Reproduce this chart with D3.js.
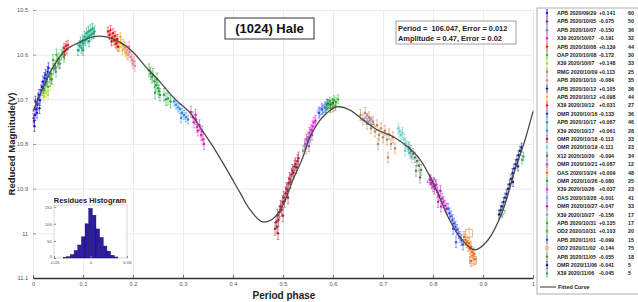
<!DOCTYPE html>
<html lang="en">
<head>
<meta charset="utf-8">
<title>(1024) Hale</title>
<script src="https://cdn.jsdelivr.net/npm/d3@7"></script>
<style>
  body { margin: 0; background: #fff; }
  svg { font-family: "Liberation Sans", Arial, sans-serif; display: block; }
</style>
</head>
<body>
<script>
// ---- data ----
var xTicks = [0, 0.1, 0.2, 0.3, 0.4, 0.5, 0.6, 0.7, 0.8, 0.9, 1]
var yTicks = [10.5, 10.6, 10.7, 10.8, 10.9, 11, 11.1]

// fitted curve, sampled by eye along the grey line
var curvePhase = [0, 0.014, 0.04, 0.066, 0.094, 0.12, 0.146, 0.174, 0.2, 0.226, 0.254, 0.28, 0.314, 0.334,
  0.36, 0.388, 0.414, 0.434, 0.458, 0.478, 0.498, 0.52, 0.54, 0.554, 0.58, 0.608, 0.634, 0.66, 0.688,
  0.724, 0.77, 0.804, 0.83, 0.858, 0.884, 0.91, 0.938, 0.964, 0.984, 1]
var curveMag = [10.727, 10.690, 10.628, 10.589, 10.572, 10.560, 10.560, 10.572, 10.594, 10.628, 10.661, 10.695, 10.730, 10.762,
  10.806, 10.858, 10.909, 10.947, 10.974, 10.969, 10.941, 10.880, 10.829, 10.784, 10.739, 10.717, 10.724, 10.746, 10.768,
  10.786, 10.829, 10.896, 10.963, 11.015, 11.037, 11.015, 10.954, 10.858, 10.791, 10.727]

var sessionNames = ["APB 2020/09/29", "APB 2020/10/05", "APB 2020/10/07", "X39 2020/10/07", "APB 2020/10/08",
  "OAP 2020/10/08", "X39 2020/10/07", "RMG 2020/10/09", "APB 2020/10/10", "APB 2020/10/12", "APB 2020/10/12",
  "X39 2020/10/12", "OMR 2020/10/16", "APB 2020/10/17", "X39 2020/10/17", "OMR 2020/10/18", "OMR 2020/10/19",
  "X12 2020/10/20", "OMR 2020/10/21", "OAS 2020/10/24", "OMR 2020/10/26", "X39 2020/10/26", "OAS 2020/10/28",
  "OMR 2020/10/27", "X39 2020/10/27", "APB 2020/10/31", "OD2 2020/10/31", "APB 2020/11/01", "OD2 2020/11/02",
  "APB 2020/11/05", "OMR 2020/11/06", "X39 2020/11/06"]
var sessionShifts = ["+0.141", "-0.075", "-0.150", "-0.191", "+0.139", "-0.172", "+0.148", "+0.113", "-0.084",
  "+0.105", "+0.098", "+0.031", "-0.133", "+0.067", "+0.061", "-0.113", "-0.111", "-0.094", "+0.087", "+0.009",
  "-0.080", "+0.037", "-0.001", "-0.047", "-0.156", "+0.135", "+0.103", "-0.099", "-0.144", "-0.055", "-0.041", "-0.045"]
var sessionCounts = [60, 50, 36, 32, 44, 30, 33, 25, 35, 36, 44, 27, 36, 46, 28, 33, 23, 34, 12, 48, 25, 23, 41, 33,
  17, 17, 20, 15, 75, 18, 5, 5]
var sessionErr = [0.012, 0.01, 0.01, 0.012, 0.01, 0.012, 0.01, 0.012, 0.012, 0.01, 0.01, 0.01, 0.012, 0.012, 0.01,
  0.014, 0.012, 0.012, 0.01, 0.012, 0.014, 0.012, 0.01, 0.012, 0.012, 0.01, 0.01, 0.012, 0.012, 0.01, 0.01, 0.01]

// [phase, reduced magnitude] per session
var sessionPoints = [
  [[0.002,10.748],[0.004,10.735],[0.006,10.722],[0.005,10.705],[0.009,10.712],[0.010,10.698],[0.012,10.69],[0.014,10.702],
   [0.016,10.68],[0.018,10.672],[0.020,10.66],[0.021,10.675],[0.023,10.652],[0.025,10.645],[0.027,10.655],[0.029,10.638],
   [0.031,10.63],[0.008,10.73],[0.003,10.76],[0.013,10.72]],
  [[0.001,10.742],[0.036,10.655],[0.045,10.63],[0.052,10.62]],
  [[0.668,10.742],[0.676,10.75]],
  [[0.316,10.728],[0.320,10.74],[0.322,10.752],[0.326,10.745],[0.328,10.762],[0.330,10.77],[0.333,10.758],[0.336,10.78],
   [0.338,10.772],[0.340,10.79],[0.342,10.8],[0.325,10.735]],
  [[0.062,10.585],[0.064,10.592],[0.066,10.58],[0.068,10.588],[0.070,10.578],[0.063,10.6]],
  [[0.022,10.68],[0.025,10.668],[0.028,10.66],[0.030,10.672],[0.033,10.65],[0.036,10.642],[0.038,10.655],[0.041,10.632],
   [0.044,10.625],[0.046,10.638],[0.049,10.615],[0.052,10.608],[0.054,10.62],[0.057,10.6],[0.060,10.594],[0.062,10.605],
   [0.047,10.6],[0.040,10.612]],
  [[0.018,10.69],[0.022,10.695],[0.026,10.685],[0.030,10.69],[0.034,10.67]],
  [[0.655,10.735],[0.660,10.745],[0.664,10.73],[0.668,10.755],[0.672,10.74],[0.676,10.765],[0.680,10.75],[0.684,10.772],
   [0.688,10.758],[0.692,10.78],[0.696,10.765],[0.700,10.785],[0.704,10.77],[0.708,10.79],[0.712,10.778],[0.716,10.8],
   [0.720,10.785],[0.724,10.81],[0.690,10.8],[0.710,10.83]],
  [[0.180,10.578],[0.184,10.585],[0.188,10.59],[0.190,10.6],[0.193,10.595],[0.196,10.605],[0.198,10.612],[0.200,10.62],
   [0.202,10.615],[0.204,10.625],[0.192,10.582]],
  [[0.590,10.71],[0.595,10.712],[0.600,10.708]],
  [[0.164,10.57],[0.167,10.578],[0.170,10.565],[0.173,10.583],[0.176,10.575],[0.179,10.59],[0.182,10.58],[0.185,10.595],
   [0.188,10.6],[0.175,10.56]],
  [[0.150,10.548],[0.153,10.556],[0.155,10.545],[0.158,10.562],[0.160,10.552],[0.162,10.568],[0.164,10.558],[0.166,10.575],
   [0.168,10.565],[0.170,10.582],[0.157,10.57]],
  [[0.572,10.73],[0.578,10.722],[0.584,10.718],[0.588,10.712]],
  [[0.090,10.59],[0.093,10.58],[0.095,10.572],[0.097,10.585],[0.099,10.568],[0.101,10.575],[0.103,10.56],[0.105,10.568],
   [0.107,10.552],[0.109,10.562],[0.111,10.548],[0.113,10.558],[0.115,10.545],[0.117,10.555],[0.119,10.542],[0.121,10.552],
   [0.123,10.548],[0.100,10.59],[0.112,10.57]],
  [[0.282,10.705],[0.286,10.712],[0.290,10.718],[0.294,10.722],[0.298,10.73],[0.302,10.735],[0.306,10.74],[0.310,10.745],
   [0.296,10.742]],
  [[0.484,10.99],[0.486,10.975],[0.488,10.985],[0.489,10.96],[0.491,10.97],[0.493,10.952],[0.495,10.94],[0.497,10.948],
   [0.499,10.93],[0.501,10.92],[0.503,10.928],[0.505,10.91],[0.507,10.9],[0.509,10.905],[0.511,10.888],[0.513,10.878],
   [0.515,10.885],[0.517,10.868],[0.519,10.86],[0.521,10.865],[0.523,10.85],[0.525,10.845],[0.527,10.852],[0.529,10.838],
   [0.531,10.832],[0.490,11.0],[0.500,10.96],[0.510,10.92]],
  [[0.730,10.765],[0.733,10.772],[0.736,10.78],[0.739,10.775],[0.742,10.79],[0.745,10.798],[0.748,10.805],[0.751,10.812],
   [0.754,10.82],[0.757,10.83],[0.744,10.815]],
  [[0.752,10.808],[0.756,10.815],[0.760,10.822],[0.764,10.83],[0.768,10.838],[0.772,10.848],[0.776,10.858],[0.766,10.86],
   [0.774,10.875]],
  [[0.795,10.88],[0.802,10.885]],
  [[0.862,11.008],[0.865,11.015],[0.868,11.02],[0.870,11.028],[0.872,11.022],[0.874,11.035],[0.876,11.03],[0.878,11.042],
   [0.880,11.05],[0.882,11.045],[0.884,11.058],[0.876,11.062]],
  [[0.232,10.635],[0.235,10.642],[0.238,10.65],[0.240,10.645],[0.243,10.66],[0.246,10.668],[0.248,10.655],[0.250,10.675],
   [0.252,10.682],[0.254,10.69],[0.244,10.685],[0.262,10.69],[0.266,10.7],[0.270,10.698],[0.275,10.705]],
  [[0.544,10.8],[0.547,10.79],[0.550,10.785],[0.553,10.775],[0.556,10.768],[0.559,10.76],[0.562,10.752],[0.565,10.748],
   [0.552,10.805],[0.558,10.78]],
  [[0.574,10.728],[0.580,10.722],[0.586,10.716]],
  [[0.794,10.88],[0.797,10.888],[0.800,10.895],[0.803,10.9],[0.806,10.892],[0.809,10.908],[0.812,10.915],[0.815,10.905],
   [0.818,10.922],[0.821,10.93],[0.824,10.938],[0.827,10.945],[0.810,10.93],[0.816,10.94]],
  [[0.540,10.815],[0.543,10.805],[0.546,10.81],[0.549,10.795],[0.552,10.79],[0.555,10.785]],
  [[0.586,10.72],[0.590,10.712],[0.594,10.705],[0.598,10.71],[0.602,10.702],[0.606,10.706],[0.610,10.7]],
  [[0.938,10.955]],
  [[0.830,10.945],[0.833,10.955],[0.836,10.962],[0.839,10.97],[0.842,10.978],[0.845,10.985],[0.848,10.992],[0.851,11.0],
   [0.854,11.008],[0.857,11.015],[0.860,11.025],[0.846,11.02],[0.840,10.99]],
  [[0.872,11.0],[0.880,11.06]],
  [[0.595,10.72],[0.600,10.718],[0.605,10.715]],
  [[0.932,10.958],[0.935,10.948],[0.938,10.94],[0.941,10.93],[0.944,10.92],[0.947,10.912],[0.950,10.9],[0.953,10.89],
   [0.956,10.878],[0.959,10.865],[0.962,10.855],[0.965,10.845],[0.968,10.835],[0.971,10.825],[0.974,10.815],[0.977,10.808],
   [0.960,10.885],[0.970,10.85]],
  [[0.978,10.835],[0.981,10.828]]
]

// residuals histogram
var histBins = [-0.035, -0.03, -0.025, -0.02, -0.015, -0.01, -0.005, 0, 0.005, 0.01, 0.015, 0.02, 0.025, 0.03, 0.035]
var histCounts = [2, 4, 10, 22, 38, 62, 100, 145, 125, 85, 60, 35, 20, 8, 3]
var histXTicks = [-0.05, 0, 0.05]
var histYTicks = [0, 50, 100, 150]

// ---- styles ----
var sessionColors = ["#1a1ae6", "#7a2a9a", "#5a6ad0", "#e020d0", "#f01818", "#38b038", "#b0e020", "#c8804a",
  "#e0869a", "#1a1a90", "#f0b020", "#e8101e", "#2a3ae8", "#1fa385", "#2a8af0", "#a81e32", "#5ed2d0", "#5a7a5a",
  "#a040b0", "#f26a10", "#22a23a", "#e81ae8", "#4a8af2", "#c81ec8", "#8a98a8", "#18c018", "#3aa83a", "#3050f0",
  "#d89a68", "#6e7e2e", "#14208a", "#44a864"]
var sessionSymbols = ["dot", "dot", "tri", "dot", "dot", "dot", "dot", "dot", "dot", "dot", "dot", "dot", "dot",
  "dot", "dot", "dot", "dot", "dot", "tri", "dot", "dot", "dot", "dia", "dot", "dot", "dot", "triDown", "dot",
  "sq", "dot", "dot", "dot"]

var width = 638, height = 302
var svg = d3.select("body").append("svg").attr("width", width).attr("height", height)

var x = d3.scaleLinear().domain([0, 1]).range([33, 533])
var y = d3.scaleLinear().domain([10.5, 11.1]).range([10, 278])

// grid
svg.append("g")
  .attr("transform", "translate(0,278)")
  .call(d3.axisBottom(x).tickValues(xTicks).tickSize(-268).tickFormat(""))
  .call(g => g.select(".domain").remove())
  .call(g => g.selectAll("line").attr("stroke", "#e6e6e6").attr("stroke-width", 0.8))
svg.append("g")
  .attr("transform", "translate(33,0)")
  .call(d3.axisLeft(y).tickValues(yTicks).tickSize(-500).tickFormat(""))
  .call(g => g.select(".domain").remove())
  .call(g => g.selectAll("line").attr("stroke", "#e6e6e6").attr("stroke-width", 0.8))

// y tick labels
svg.append("g")
  .attr("transform", "translate(33,0)")
  .call(d3.axisLeft(y).tickValues(yTicks).tickSizeInner(-3).tickSizeOuter(0).tickPadding(5).tickFormat(d => d))
  .call(g => g.select(".domain").remove())
  .call(g => g.selectAll("line").attr("stroke", "#999"))
  .call(g => g.selectAll("text").attr("font-size", 5.6).attr("fill", "#555").attr("font-family", null))

// x axis
svg.append("g")
  .attr("transform", "translate(0,278)")
  .call(d3.axisBottom(x).tickValues(xTicks).tickSizeInner(-3).tickSizeOuter(0).tickPadding(4).tickFormat(d => d))
  .call(g => g.select(".domain").attr("stroke", "#333").attr("stroke-width", 1.6))
  .call(g => g.selectAll("line").attr("stroke", "#666"))
  .call(g => g.selectAll("text").attr("font-size", 5.6).attr("fill", "#555").attr("font-family", null))

// axis titles
svg.append("text")
  .attr("transform", "translate(15,144) rotate(-90)")
  .attr("text-anchor", "middle")
  .attr("font-size", 9.5).attr("font-weight", "bold").attr("fill", "#222")
  .text("Reduced Magnitude(V)")
svg.append("text")
  .attr("x", 284).attr("y", 299)
  .attr("text-anchor", "middle")
  .attr("font-size", 10).attr("font-weight", "bold").attr("fill", "#222")
  .text("Period phase")

// symbols
function drawSymbol(g, type, cx, cy, color, big) {
  var s = big ? 3.6 : 1.3
  if (type == "dot") {
    g.append("circle").attr("cx", cx).attr("cy", cy).attr("r", big ? 1.5 : 1.2).attr("fill", color)
  } else if (type == "sq") {
    g.append("rect").attr("x", cx - s).attr("y", cy - s).attr("width", 2 * s).attr("height", 2 * s)
      .attr("fill", "none").attr("stroke", color).attr("stroke-width", 0.7)
  } else if (type == "dia") {
    g.append("path").attr("d", `M${cx},${cy - s}L${cx + s},${cy}L${cx},${cy + s}L${cx - s},${cy}Z`)
      .attr("fill", "none").attr("stroke", color).attr("stroke-width", 0.7)
  } else if (type == "tri") {
    g.append("path").attr("d", `M${cx},${cy - s}L${cx + s},${cy + s * 0.8}L${cx - s},${cy + s * 0.8}Z`)
      .attr("fill", "none").attr("stroke", color).attr("stroke-width", 0.7)
  } else if (type == "triDown") {
    g.append("path").attr("d", `M${cx},${cy + s}L${cx + s},${cy - s * 0.8}L${cx - s},${cy - s * 0.8}Z`)
      .attr("fill", "none").attr("stroke", color).attr("stroke-width", 0.7)
  }
}

// data points with error bars
var pts = svg.append("g")
sessionPoints.forEach(function(list, i) {
  var col = sessionColors[i]
  var g = pts.append("g")
  list.forEach(function(p) {
    var cx = x(p[0]), y0 = y(p[1] - sessionErr[i]), y1 = y(p[1] + sessionErr[i])
    g.append("line").attr("x1", cx).attr("x2", cx).attr("y1", y0).attr("y2", y1)
      .attr("stroke", col).attr("stroke-width", 0.6).attr("opacity", 0.85)
    g.append("line").attr("x1", cx - 1.2).attr("x2", cx + 1.2).attr("y1", y0).attr("y2", y0)
      .attr("stroke", col).attr("stroke-width", 0.5)
    g.append("line").attr("x1", cx - 1.2).attr("x2", cx + 1.2).attr("y1", y1).attr("y2", y1)
      .attr("stroke", col).attr("stroke-width", 0.5)
    drawSymbol(g, sessionSymbols[i], cx, y(p[1]), col, sessionSymbols[i] != "dot")
  })
})

// fitted curve
var line = d3.line()
  .x(d => x(d[0])).y(d => y(d[1]))
  .curve(d3.curveCatmullRom.alpha(0.5))
svg.append("path")
  .datum(curvePhase.map((p, i) => [p, curveMag[i]]))
  .attr("d", line)
  .attr("fill", "none").attr("stroke", "#4a4a4a").attr("stroke-width", 1.3)

// title box
svg.append("rect").attr("x", 225).attr("y", 18).attr("width", 89).attr("height", 21)
  .attr("fill", "#fff").attr("stroke", "#333").attr("stroke-width", 1)
svg.append("text").attr("x", 269.5).attr("y", 33).attr("text-anchor", "middle")
  .attr("font-size", 13).attr("font-weight", "bold").attr("fill", "#111")
  .text("(1024) Hale")

// period box
svg.append("rect").attr("x", 396).attr("y", 21).attr("width", 120).attr("height", 23)
  .attr("fill", "#fff").attr("stroke", "#888").attr("stroke-width", 0.8)
svg.append("text").attr("x", 398).attr("y", 30.5)
  .attr("font-size", 7.4).attr("font-weight", "bold").attr("fill", "#222")
  .attr("xml:space", "preserve")
  .text("Period =  106.047, Error = 0.012")
svg.append("text").attr("x", 398).attr("y", 40.5)
  .attr("font-size", 7.4).attr("font-weight", "bold").attr("fill", "#222")
  .text("Amplitude = 0.47, Error = 0.02")

// residuals histogram inset
var hx = d3.scaleLinear().domain([-0.05, 0.05]).range([54, 127])
var hy = d3.scaleLinear().domain([0, 155]).range([258, 205])
var inset = svg.append("g")
inset.append("rect").attr("x", 54).attr("y", 205).attr("width", 73).attr("height", 53)
  .attr("fill", "#fff").attr("stroke", "#bbb").attr("stroke-width", 0.6)
inset.selectAll("rect.bar")
  .data(histBins)
  .enter()
  .append("rect")
    .attr("class", "bar")
    .attr("x", d => hx(d - 0.0025))
    .attr("width", d => hx(d + 0.0025) - hx(d - 0.0025))
    .attr("y", (d, i) => hy(histCounts[i]))
    .attr("height", (d, i) => hy(0) - hy(histCounts[i]))
    .attr("fill", "#2c1ea0").attr("stroke", "#150c5a").attr("stroke-width", 0.4)
inset.append("g")
  .attr("transform", "translate(0,258)")
  .call(d3.axisBottom(hx).tickValues(histXTicks).tickSizeInner(-2).tickSizeOuter(0).tickPadding(3).tickFormat(d => d))
  .call(g => g.select(".domain").remove())
  .call(g => g.selectAll("line").attr("stroke", "#888"))
  .call(g => g.selectAll("text").attr("font-size", 4.4).attr("fill", "#555").attr("font-family", null))
inset.append("g")
  .attr("transform", "translate(54,0)")
  .call(d3.axisLeft(hy).tickValues(histYTicks).tickSizeInner(-2).tickSizeOuter(0).tickPadding(2).tickFormat(d => d))
  .call(g => g.select(".domain").remove())
  .call(g => g.selectAll("line").attr("stroke", "#888"))
  .call(g => g.selectAll("text").attr("font-size", 4.4).attr("fill", "#555").attr("font-family", null)
    .attr("dy", (d) => d == 0 ? "-0.1em" : "0.32em"))
inset.append("text").attr("x", 90).attr("y", 203).attr("text-anchor", "middle")
  .attr("font-size", 7.5).attr("font-weight", "bold").attr("fill", "#222")
  .text("Residues Histogram")

// legend
var leg = svg.append("g")
leg.append("rect").attr("x", 537).attr("y", 8).attr("width", 110).attr("height", 286)
  .attr("fill", "#fff").attr("stroke", "#999").attr("stroke-width", 0.8)
sessionNames.forEach(function(name, i) {
  var ly = 13 + i * 8.4, col = sessionColors[i]
  var g = leg.append("g")
  g.append("line").attr("x1", 547).attr("x2", 547).attr("y1", ly - 3.5).attr("y2", ly + 3.5)
    .attr("stroke", col).attr("stroke-width", 0.8)
  g.append("line").attr("x1", 546).attr("x2", 548).attr("y1", ly - 3.5).attr("y2", ly - 3.5).attr("stroke", col).attr("stroke-width", 0.5)
  g.append("line").attr("x1", 546).attr("x2", 548).attr("y1", ly + 3.5).attr("y2", ly + 3.5).attr("stroke", col).attr("stroke-width", 0.5)
  drawSymbol(g, sessionSymbols[i], 547, ly, col, false)
  g.append("text").attr("x", 557).attr("y", ly + 2).attr("font-size", 5.3).attr("font-weight", "bold").attr("fill", "#222").text(name)
  g.append("text").attr("x", 599).attr("y", ly + 2).attr("font-size", 5.3).attr("font-weight", "bold").attr("fill", "#222").text(sessionShifts[i])
  g.append("text").attr("x", 628).attr("y", ly + 2).attr("font-size", 5.3).attr("font-weight", "bold").attr("fill", "#222").text(sessionCounts[i])
})
leg.append("line").attr("x1", 540).attr("x2", 556).attr("y1", 287).attr("y2", 287)
  .attr("stroke", "#333").attr("stroke-width", 1)
leg.append("text").attr("x", 558).attr("y", 289).attr("font-size", 5.4).attr("font-weight", "bold").attr("fill", "#222")
  .text("Fitted Curve")
</script>
</body>
</html>
